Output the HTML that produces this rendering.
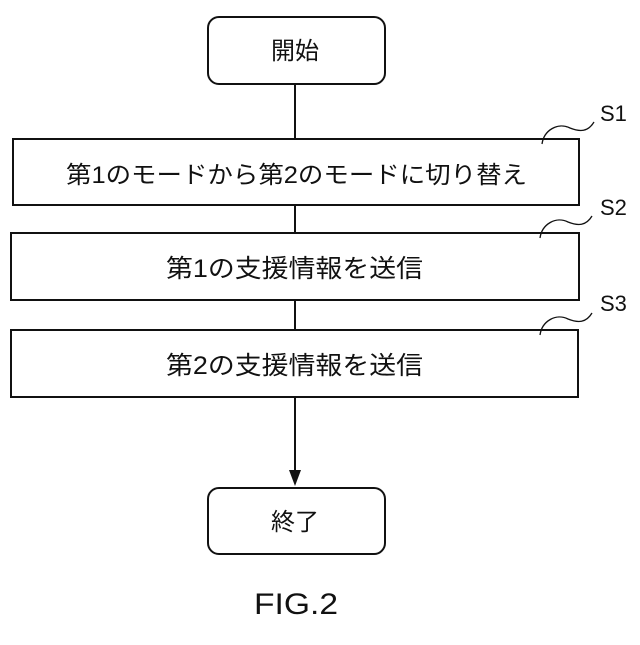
<!DOCTYPE html>
<html><head><meta charset="utf-8"><style>
html,body{margin:0;padding:0;background:#fff;}
svg text{font-family:"Liberation Sans","Noto Sans CJK JP",sans-serif;fill:#111;}
</style></head><body>
<svg width="640" height="640" viewBox="0 0 640 640" xmlns="http://www.w3.org/2000/svg">
<g fill="none" stroke="#111" stroke-width="2">
<rect x="208" y="17" width="177" height="67" rx="11"/>
<line x1="295" y1="84" x2="295" y2="140"/>
<rect x="13" y="139" width="566" height="66"/>
<line x1="295" y1="205" x2="295" y2="233"/>
<rect x="11" y="233" width="568" height="67"/>
<line x1="295" y1="300" x2="295" y2="330"/>
<rect x="11" y="330" width="567" height="67"/>
<line x1="295" y1="397" x2="295" y2="472"/>
<rect x="208" y="488" width="177" height="66" rx="11"/>
<path d="M542,144 C544,130 558,122 570,128 C580,132 588,132 594,122" stroke-width="1.3"/>
<path d="M540,238 C542,224 556,216 568,222 C578,226 586,226 592,216" stroke-width="1.3"/>
<path d="M540,335 C542,321 556,313 568,319 C578,323 586,323 592,313" stroke-width="1.3"/>
</g>
<polygon points="289,470 301,470 295,486" fill="#111"/>
<text x="295" y="59" font-size="24" text-anchor="middle">開始</text>
<text x="66" y="183" font-size="24" textLength="461" lengthAdjust="spacingAndGlyphs">第1のモードから第2のモードに切り替え</text>
<text x="166" y="277" font-size="25" textLength="257" lengthAdjust="spacingAndGlyphs">第1の支援情報を送信</text>
<text x="166" y="374" font-size="25" textLength="257" lengthAdjust="spacingAndGlyphs">第2の支援情報を送信</text>
<text x="295" y="530" font-size="24" text-anchor="middle">終了</text>
<text x="600" y="121" font-size="22">S1</text>
<text x="600" y="215" font-size="22">S2</text>
<text x="600" y="311" font-size="22">S3</text>
<text x="296" y="614" font-size="30" text-anchor="middle" textLength="84" lengthAdjust="spacingAndGlyphs">FIG.2</text>
</svg>
</body></html>
